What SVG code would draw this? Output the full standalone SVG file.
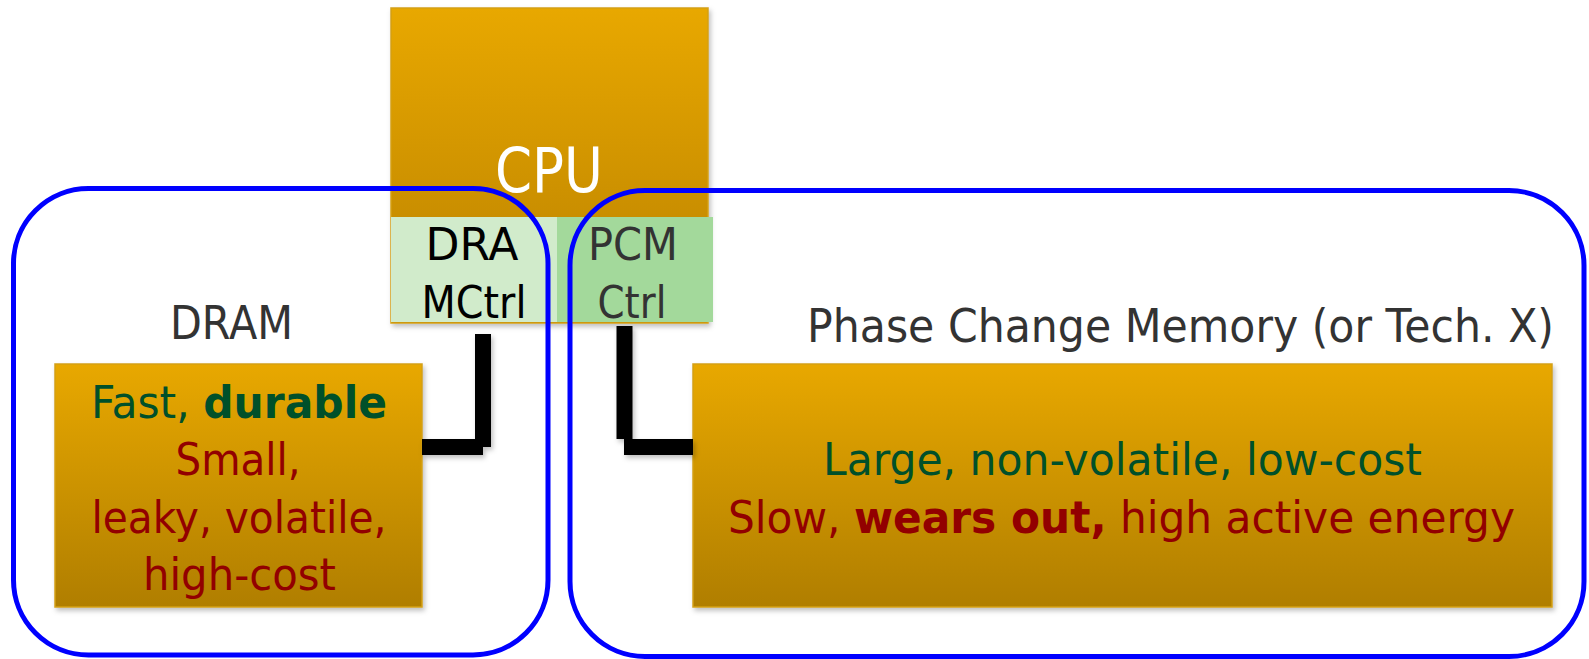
<svg xmlns="http://www.w3.org/2000/svg" width="1589" height="659" viewBox="0 0 1589 659">
<style>
.t{font-family:"DejaVu Sans","Liberation Sans",sans-serif;text-anchor:middle}
.g{fill:#00502A}
.r{fill:#920000}
.b{font-weight:bold}
.gray{fill:#333333}
.box{stroke:#D4A017;stroke-width:1.5}
.region{fill:none;stroke:#0000FF;stroke-width:5}
.wire{stroke:#000;stroke-width:16;fill:none}
</style>
<defs>
<linearGradient id="gold" x1="0" y1="0" x2="0" y2="1">
<stop offset="0" stop-color="#E8A800"/>
<stop offset="1" stop-color="#B07E00"/>
</linearGradient>
<linearGradient id="cpuGold" x1="0" y1="0" x2="0" y2="1">
<stop offset="0" stop-color="#E8A800"/>
<stop offset="1" stop-color="#BA8100"/>
</linearGradient>
<filter id="sh" x="-5%" y="-5%" width="115%" height="120%">
<feDropShadow dx="2" dy="3" stdDeviation="2.5" flood-color="#000" flood-opacity="0.25"/>
</filter>
</defs>
<rect width="1589" height="659" fill="#fff"/>

<g id="cpu">
<rect class="box" x="391" y="8" width="317" height="315" fill="url(#cpuGold)" filter="url(#sh)"/>
<text class="t" x="549" y="192" font-size="62" fill="#fff" textLength="108" lengthAdjust="spacingAndGlyphs">CPU</text>
</g>

<g id="dram-ctrl">
<rect x="391" y="217" width="166" height="105" fill="#D1EBCB"/>
<text class="t" x="472" y="260" font-size="45" fill="#000" textLength="93" lengthAdjust="spacingAndGlyphs">DRA</text>
<text class="t" x="474" y="318" font-size="45" fill="#000" textLength="105" lengthAdjust="spacingAndGlyphs">MCtrl</text>
</g>

<g id="pcm-ctrl">
<rect x="557" y="217" width="156" height="105" fill="#A3D99B"/>
<text class="t gray" x="633" y="260" font-size="45" textLength="90" lengthAdjust="spacingAndGlyphs">PCM</text>
<text class="t gray" x="632" y="318" font-size="45" textLength="69" lengthAdjust="spacingAndGlyphs">Ctrl</text>
</g>

<g id="dram">
<rect class="box" x="55" y="364" width="367" height="243" fill="url(#gold)" filter="url(#sh)"/>
<text class="t" x="239" y="418" font-size="45" textLength="296" lengthAdjust="spacingAndGlyphs"><tspan class="g">Fast, </tspan><tspan class="g b">durable</tspan></text>
<text class="t r" x="238" y="475" font-size="45" textLength="125" lengthAdjust="spacingAndGlyphs">Small,</text>
<text class="t r" x="239" y="533" font-size="45" textLength="295" lengthAdjust="spacingAndGlyphs">leaky, volatile,</text>
<text class="t r" x="239.5" y="590" font-size="45" textLength="193" lengthAdjust="spacingAndGlyphs">high-cost</text>
</g>

<g id="pcm">
<rect class="box" x="693" y="364" width="859" height="243" fill="url(#gold)" filter="url(#sh)"/>
<text class="t g" x="1122.5" y="475" font-size="45" textLength="599" lengthAdjust="spacingAndGlyphs">Large, non-volatile, low-cost</text>
<text class="t" x="1121.5" y="533" font-size="45" textLength="787" lengthAdjust="spacingAndGlyphs"><tspan class="r">Slow, </tspan><tspan class="r b">wears out,</tspan><tspan class="r"> high active energy</tspan></text>
</g>

<g id="connectors" filter="url(#sh)">
<line class="wire" x1="483" y1="334" x2="483" y2="447"/>
<line class="wire" x1="422" y1="447" x2="483" y2="447"/>
<line class="wire" x1="624.5" y1="326" x2="624.5" y2="439"/>
<line class="wire" x1="624" y1="447" x2="693" y2="447"/>
</g>

<g id="dram-region">
<rect class="region" x="13.5" y="188.5" width="534.5" height="466.5" rx="75" ry="75"/>
<text class="t gray" x="231.5" y="339" font-size="47" textLength="123" lengthAdjust="spacingAndGlyphs">DRAM</text>
</g>

<g id="pcm-region">
<rect class="region" x="570" y="190.5" width="1014" height="466" rx="75" ry="75"/>
<text class="t gray" x="1180.5" y="342" font-size="47" textLength="747" lengthAdjust="spacingAndGlyphs">Phase Change Memory (or Tech. X)</text>
</g>
</svg>
